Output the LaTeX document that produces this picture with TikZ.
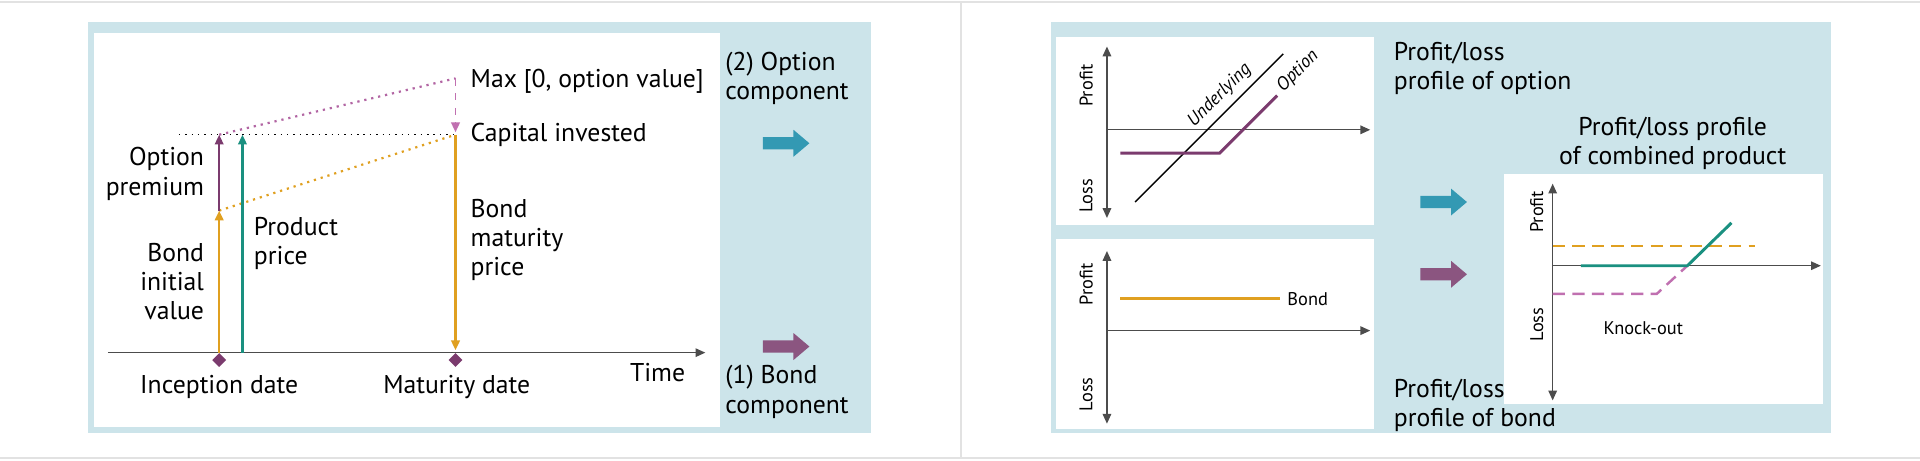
\documentclass[tikz,border=0pt]{standalone}
\usepackage{fontspec}
\setmainfont{PT Sans}
\usetikzlibrary{arrows.meta}
\definecolor{panel}{HTML}{CCE4EA}
\definecolor{orng}{HTML}{E0A020}
\definecolor{purp}{HTML}{7B3B6E}
\definecolor{teal2}{HTML}{1A9080}
\definecolor{tarrow}{HTML}{3399B3}
\definecolor{parrow}{HTML}{8B5580}
\definecolor{lpurp}{HTML}{C070B0}
\definecolor{gridg}{HTML}{E2E2E2}
\begin{document}
\begin{tikzpicture}[x=0.5pt,y=-0.5pt,
  big/.style={font=\fontsize{10.5}{12}\selectfont, inner sep=0pt, align=left},
  small/.style={font=\fontsize{7.5}{8.5}\selectfont, inner sep=0pt},
  ax/.style={draw=black!70, line width=0.5pt, -{Triangle[length=4pt,width=3.5pt]}},
  axd/.style={draw=black!70, line width=0.5pt, {Triangle[length=4pt,width=3.5pt]}-{Triangle[length=4pt,width=3.5pt]}},
  varr/.style={line width=0.9pt, -{Triangle[length=4pt,width=3.5pt]}},
  dia/.style={fill=purp, inner sep=0pt, minimum size=4pt, rotate=45},
  wbox/.style={fill=white, draw=none}]
\useasboundingbox (0,0) rectangle (1568,376);
\fill[white] (0,0) rectangle (1568,376);
\draw[gridg, line width=0.8pt] (0,2) -- (1568,2) (0,374) -- (1568,374) (785,2) -- (785,374);
% ---------- left panel
\fill[panel] (72,18) rectangle (711,354);
\fill[white] (77,27) rectangle (588,349);
\coordinate (ax0) at (88,288); \coordinate (ax1) at (576,288);
\draw[ax] (ax0) -- (ax1);
\node[dia] (d1) at (179,294) {};
\node[dia] (d2) at (372,294) {};
\coordinate (i0) at (179,288); \coordinate (ib) at (179,172); \coordinate (ic) at (179,110);
\coordinate (p0) at (198,288); \coordinate (pc) at (198,110);
\coordinate (mc) at (372,110); \coordinate (m0) at (372,286); \coordinate (mm) at (372,64);
\draw[black, dotted, line width=0.6pt] (146,110) -- (mc);
\draw[orng, dotted, line width=0.9pt] (ib) -- (mc);
\draw[lpurp!80!purp, dotted, line width=0.9pt] (ic) -- (mm);
\draw[lpurp, dashed, line width=0.8pt, -{Triangle[length=4pt,width=3.5pt]}] (mm) -- (372,108);
\draw[varr, orng] (i0) -- (ib);
\draw[varr, purp] (ib) -- (ic);
\draw[varr, teal2] (p0) -- (pc);
\draw[varr, orng] (mc) -- (m0);
\node[big, anchor=west] (maxv) at (384,66) {Max [0, option value]};
\node[big, anchor=west] (capi) at (384,110) {Capital invested};
\node[big, anchor=north west] (bmp) at (384,162) {Bond\\maturity\\price};
\node[big, anchor=east, align=right] (opr) at (167,142) {Option\\premium};
\node[big, anchor=east, align=right] (biv) at (167,230) {Bond\\initial\\value};
\node[big, anchor=west] (pp) at (207,199) {Product\\price};
\node[big] (time) at (537,304) {Time};
\node[big] (inc) at (179,316) {Inception date};
\node[big] (mat) at (373,316) {Maturity date};
\node[big, anchor=north west] (oc) at (592,42) {(2) Option\\component};
\node[big, anchor=north west] (bc) at (592,298) {(1) Bond\\component};
\fill[tarrow] (623,112) -- (648,112) -- (648,106) -- (661,117) -- (648,128) -- (648,122) -- (623,122) -- cycle;
\fill[parrow] (623,278) -- (648,278) -- (648,272) -- (661,283) -- (648,294) -- (648,288) -- (623,288) -- cycle;
% ---------- right panel
\fill[panel] (858,18) rectangle (1495,354);
\fill[white] (862,30) rectangle (1122,184);
\fill[white] (862,195) rectangle (1122,350);
\fill[white] (1228,142) rectangle (1489,330);
% option box
\draw[axd] (904,38) -- (904,178);
\draw[ax] (904,106) -- (1119,106);
\node[small, rotate=90] (pr1) at (887,70) {Profit};
\node[small, rotate=90] (lo1) at (887,160) {Loss};
\coordinate (u0) at (927,165); \coordinate (u1) at (1048,44);
\draw[black, line width=0.6pt] (u0) -- (u1);
\draw[purp, line width=1.2pt] (915,125) -- (996,125) -- (1043,78);
\node[small, rotate=45] (und) at (996,78) {\itshape Underlying};
\node[small, rotate=45] (opt) at (1060,58) {\itshape Option};
% bond box
\draw[axd] (904,205) -- (904,346);
\draw[ax] (904,270) -- (1119,270);
\node[small, rotate=90] (pr2) at (887,232) {Profit};
\node[small, rotate=90] (lo2) at (887,322) {Loss};
\draw[orng, line width=1.2pt] (915,244) -- (1045,244);
\node[small, anchor=west] (bond) at (1051,244) {Bond};
% combined
\draw[axd] (1268,150) -- (1268,327);
\draw[ax] (1268,217) -- (1487,217);
\node[small, rotate=90] (pr3) at (1255,173) {Profit};
\node[small, rotate=90] (lo3) at (1255,265) {Loss};
\draw[orng, dashed, line width=1pt, dash pattern=on 5pt off 3pt] (1268,201) -- (1433,201);
\draw[lpurp, dashed, line width=1pt, dash pattern=on 5pt off 3pt] (1268,240) -- (1353,240) -- (1378,217);
\draw[teal2, line width=1.2pt] (1291,217) -- (1378,217) -- (1414,182);
\node[small] (ko) at (1342,268) {Knock-out};
\node[big, anchor=north west] (t1) at (1138,34) {Profit/loss\\profile of option};
\node[big, anchor=north west] (t2) at (1138,309) {Profit/loss\\profile of bond};
\node[big, align=center] (t3) at (1366,117) {Profit/loss profile\\of combined product};
\fill[tarrow] (1160,160) -- (1185,160) -- (1185,154) -- (1198,165) -- (1185,176) -- (1185,170) -- (1160,170) -- cycle;
\fill[parrow] (1160,219) -- (1185,219) -- (1185,213) -- (1198,224) -- (1185,235) -- (1185,229) -- (1160,229) -- cycle;
\end{tikzpicture}
\end{document}
